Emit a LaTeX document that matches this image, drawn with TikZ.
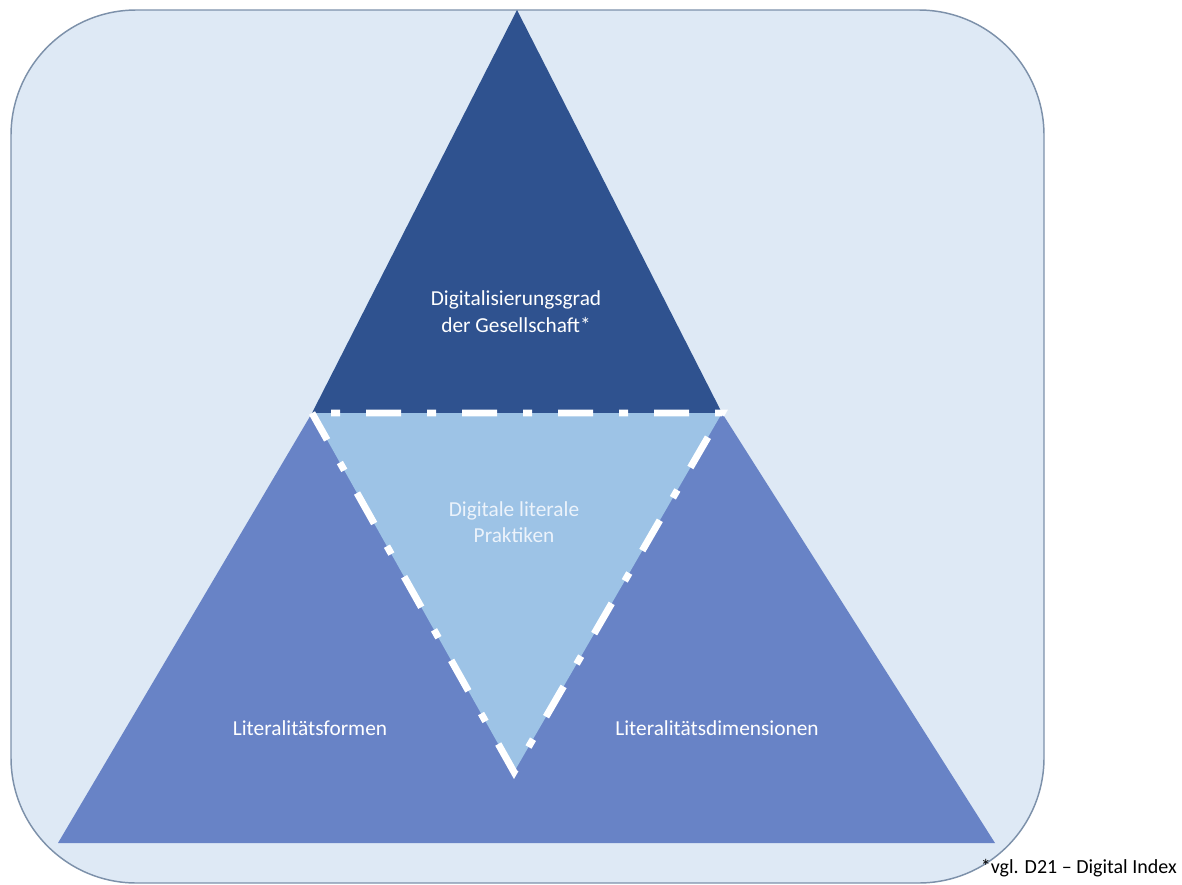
\documentclass[tikz,border=0pt]{standalone}
\usepackage{fontspec}
\setmainfont{Carlito}
\definecolor{panelfill}{RGB}{222,233,245}
\definecolor{paneledge}{RGB}{125,145,170}
\definecolor{darkblue}{RGB}{47,82,143}
\definecolor{midblue}{RGB}{104,131,198}
\definecolor{lightblue}{RGB}{157,195,230}
\definecolor{palefont}{RGB}{236,243,251}
\begin{document}
\begin{tikzpicture}[x=0.75pt,y=-0.75pt,
  labeltext/.style={font=\fontsize{16}{20}\selectfont, align=center, inner sep=0pt},
  notetext/.style={font=\fontsize{15}{18}\selectfont, inner sep=0pt},
  borderdash/.style={white, line width=5.2pt, line cap=butt, line join=miter,
    dash pattern=on 26.25pt off 19.5pt on 6.75pt off 19.5pt, dash phase=31.5pt}]
  \useasboundingbox (0,0) rectangle (1182,885);
  % outer rounded panel
  \draw[fill=panelfill, draw=paneledge, line width=1.1pt, rounded corners=94pt]
    (11,10) rectangle (1044,883);
  % corner points of the three areas
  \coordinate (apex) at (517,10);
  \coordinate (tl) at (312,413);
  \coordinate (tr) at (722,413);
  \coordinate (bl) at (58,843);
  \coordinate (br) at (995,843);
  \coordinate (bottom) at (514,772);
  % lower band
  \fill[midblue] (tl) -- (tr) -- (br) -- (bl) -- cycle;
  % upper triangle
  \fill[darkblue] (apex) -- (tr) -- (tl) -- cycle;
  % central inverted triangle
  \fill[lightblue] (tl) -- (tr) -- (bottom) -- cycle;
  \draw[borderdash] (tl) -- (tr) -- (bottom) -- cycle;
  % labels
  \node[labeltext, white] (top) at (516,312) {Digitalisierungsgrad\\der Gesellschaft*};
  \node[labeltext, palefont] (mid) at (514,522) {Digitale literale\\Praktiken};
  \node[labeltext, white] (left) at (310,728) {Literalitätsformen};
  \node[labeltext, white] (right) at (717,728) {Literalitätsdimensionen};
  \node[notetext, black, anchor=east] (note) at (1177,868) {*vgl. D21 – Digital Index};
\end{tikzpicture}
\end{document}
